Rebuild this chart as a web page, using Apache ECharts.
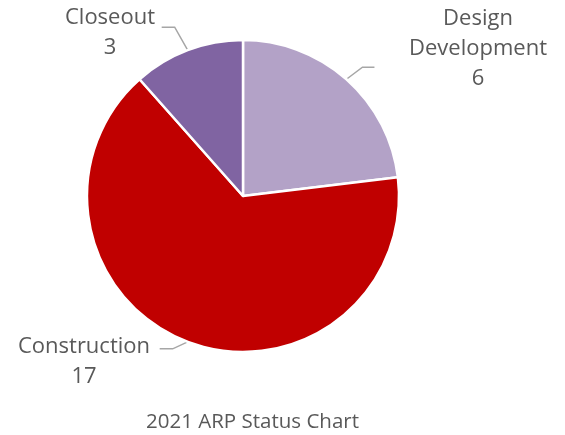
<!DOCTYPE html>
<html><head><meta charset="utf-8">
<script src="https://cdn.jsdelivr.net/npm/echarts@6/dist/echarts.min.js"></script>
<style>html,body{margin:0;padding:0;background:#fff}#c{width:565px;height:435px}</style>
</head><body><div id="c"></div>
<script>
const categories = ['Design Development', 'Construction', 'Closeout'];
const values = [6, 17, 3];
const colors = ['#B3A2C7', '#C00000', '#8064A2'];
const labelDisplay = ['Design\nDevelopment', 'Construction', 'Closeout'];
// label block centres (layout only)
const labelPos = [[478, 49], [84, 362], [110, 33]];
// leader-line bend offsets relative to slice anchor (layout only)
const leaderBend = [[[16, -12], [28, -12]], [[-15, 7], [-28, 7]], [[-13, -23], [-26, -23]]];

const chart = echarts.init(document.getElementById('c'));
chart.setOption({
  animation: false,
  title: {
    text: '2021 ARP Status Chart', left: 141, top: 407,
    textStyle: { fontFamily: 'Open Sans', fontSize: 20.5, fontWeight: 'normal', color: '#595959' }
  },
  series: [{
    type: 'pie',
    center: [243, 196],
    radius: 156,
    startAngle: 90,
    clockwise: true,
    data: categories.map((c, i) => ({ name: c, value: values[i], itemStyle: { color: colors[i] } })),
    itemStyle: { borderColor: '#fff', borderWidth: 2.5 },
    label: {
      show: true, position: 'outside',
      formatter: p => labelDisplay[p.dataIndex] + '\n' + p.value,
      fontFamily: 'Open Sans', fontSize: 22, color: '#595959', lineHeight: 30, align: 'center'
    },
    labelLine: { show: true, length: 15, length2: 12, lineStyle: { color: '#A6A6A6', width: 1.5 } },
    labelLayout: p => {
      const a = p.labelLinePoints[0];
      const b = leaderBend[p.dataIndex];
      return {
        x: labelPos[p.dataIndex][0], y: labelPos[p.dataIndex][1], align: 'center', verticalAlign: 'middle',
        labelLinePoints: [[a[0], a[1]], [a[0] + b[0][0], a[1] + b[0][1]], [a[0] + b[1][0], a[1] + b[1][1]]]
      };
    }
  }]
});
</script></body></html>
